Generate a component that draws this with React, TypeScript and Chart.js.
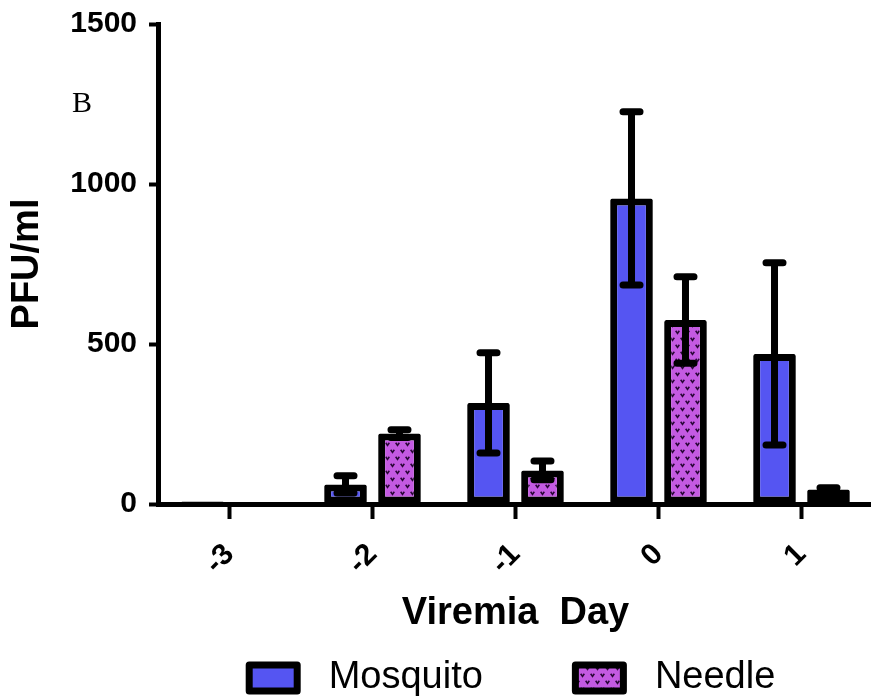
import React, { useEffect, useRef } from "react";
import { Chart, registerables } from "chart.js";

Chart.register(...registerables);

const categories = ["-3", "-2", "-1", "0", "1"];
const mosquitoMean = [8, 61, 316, 955, 469];
const mosquitoSem = [0, 27, 157, 271, 285];
const needleMean = [0, 220, 105, 575, 45];
const needleSem = [0, 12, 29, 135, 6];
const seriesNames = ["Mosquito", "Needle"];
const yMin = 0;
const yMax = 1500;
const yStep = 500;
const panelLabel = "B";
const xTitle = "Viremia  Day";
const yTitle = "PFU/ml";

const BLUE = "#5555F2";
const PURPLE = "#C45AE2";
const FONT = "'Liberation Sans', Arial, sans-serif";

function makePattern(): CanvasPattern | string {
  const c = document.createElement("canvas");
  c.width = 10;
  c.height = 14;
  const g = c.getContext("2d");
  if (!g) return PURPLE;
  g.fillStyle = PURPLE;
  g.fillRect(0, 0, 10, 14);
  g.strokeStyle = "#2A0838";
  g.lineWidth = 1.6;
  const v = (x: number, y: number) => {
    g.beginPath();
    g.moveTo(x - 1.8, y - 1.3);
    g.lineTo(x, y + 1.4);
    g.lineTo(x + 1.8, y - 1.3);
    g.stroke();
  };
  v(2.5, 3);
  v(7.5, 10);
  const p = g.createPattern(c, "repeat");
  return p || PURPLE;
}

const errorBarPlugin = {
  id: "errorBars",
  afterDatasetsDraw(chart: any) {
    const ctx = chart.ctx;
    const y = chart.scales.y;
    const means = [mosquitoMean, needleMean];
    const sems = [mosquitoSem, needleSem];
    ctx.save();
    ctx.strokeStyle = "#000";
    ctx.lineWidth = 7;
    ctx.lineCap = "round";
    chart.data.datasets.forEach((_ds: any, i: number) => {
      const meta = chart.getDatasetMeta(i);
      meta.data.forEach((el: any, j: number) => {
        const e = sems[i][j];
        if (!e) return;
        const m = means[i][j];
        const x = el.x;
        const yt = y.getPixelForValue(m + e);
        const yb = y.getPixelForValue(Math.max(0, m - e));
        ctx.beginPath();
        ctx.moveTo(x, yt);
        ctx.lineTo(x, yb);
        ctx.moveTo(x - 8.5, yt);
        ctx.lineTo(x + 8.5, yt);
        ctx.moveTo(x - 8.5, yb);
        ctx.lineTo(x + 8.5, yb);
        ctx.stroke();
      });
    });
    ctx.restore();
  },
};

const decorPlugin = {
  id: "decor",
  afterDraw(chart: any) {
    const ctx = chart.ctx;
    const area = chart.chartArea;
    ctx.save();
    // panel label
    ctx.fillStyle = "#000";
    ctx.font = "30px 'Liberation Serif', 'Times New Roman', serif";
    ctx.textBaseline = "alphabetic";
    ctx.textAlign = "left";
    ctx.fillText(panelLabel, 72, 112);

    // legend
    ctx.font = `38px ${FONT}`;
    const boxW = 55;
    const boxH = 33;
    const boxGap = 28;
    const itemGap = 89;
    const widths = chart.data.datasets.map(
      (ds: any) => boxW + boxGap + ctx.measureText(ds.label).width
    );
    const total = widths.reduce((a: number, b: number) => a + b, 0) + itemGap * (widths.length - 1);
    const cx = (area.left + area.right) / 2 - 5;
    let x = cx - total / 2;
    const cy = 678;
    chart.data.datasets.forEach((ds: any, i: number) => {
      ctx.fillStyle = ds.backgroundColor;
      ctx.fillRect(x + 3, cy - boxH / 2 + 3, boxW - 6, boxH - 6);
      ctx.strokeStyle = "#000";
      ctx.lineWidth = 7;
      ctx.lineJoin = "round";
      ctx.strokeRect(x + 3.5, cy - boxH / 2 + 3.5, boxW - 7, boxH - 7);
      ctx.fillStyle = "#000";
      ctx.textBaseline = "middle";
      ctx.fillText(ds.label, x + boxW + boxGap, cy);
      x += widths[i] + itemGap;
    });
    ctx.restore();
  },
};

export default function App() {
  const ref = useRef<HTMLCanvasElement | null>(null);

  useEffect(() => {
    if (!ref.current) return;
    const pattern = makePattern();
    const chart = new Chart(ref.current, {
      type: "bar",
      data: {
        labels: categories,
        datasets: [
          {
            label: seriesNames[0],
            data: mosquitoMean,
            backgroundColor: BLUE,
            borderColor: "#000",
            borderWidth: 7,
            borderSkipped: false,
            borderRadius: 2,
            categoryPercentage: 0.755,
            barPercentage: 0.79,
          },
          {
            label: seriesNames[1],
            data: needleMean,
            backgroundColor: pattern as any,
            borderColor: "#000",
            borderWidth: 7,
            borderSkipped: false,
            borderRadius: 2,
            categoryPercentage: 0.755,
            barPercentage: 0.79,
          },
        ],
      },
      options: {
        responsive: false,
        animation: false,
        devicePixelRatio: 1,
        layout: { padding: { left: 0, right: 0, top: 24, bottom: 64 } },
        plugins: {
          legend: { display: false },
          tooltip: { enabled: false },
        },
        scales: {
          x: {
            offset: true,
            grid: {
              offset: false,
              drawOnChartArea: false,
              drawTicks: true,
              tickLength: 15,
              tickWidth: 4,
              tickColor: "#000",
            },
            border: { display: true, color: "#000", width: 5 },
            ticks: {
              color: "#000",
              font: { family: FONT, size: 30, weight: "bold" },
              minRotation: 45,
              maxRotation: 45,
              padding: 18,
            },
            title: {
              display: true,
              text: xTitle,
              color: "#000",
              font: { family: FONT, size: 38, weight: "bold" },
              padding: 0,
            },
            afterFit(scale: any) {
              scale.height = 132;
              scale.paddingLeft = 0;
              scale.paddingRight = 0;
            },
          },
          y: {
            min: yMin,
            max: yMax,
            grid: {
              drawOnChartArea: false,
              drawTicks: true,
              tickLength: 9,
              tickWidth: 4,
              tickColor: "#000",
            },
            border: { display: true, color: "#000", width: 5 },
            ticks: {
              stepSize: yStep,
              color: "#000",
              font: { family: FONT, size: 30, weight: "bold" },
              padding: 12,
              callback: (v: any) => String(v),
            },
            title: {
              display: true,
              text: yTitle,
              color: "#000",
              font: { family: FONT, size: 38, weight: "bold" },
              padding: { top: 5, bottom: 0 },
            },
            afterFit(scale: any) {
              scale.width = 158;
              scale.paddingTop = 0;
              scale.paddingBottom = 0;
            },
          },
        },
      },
      plugins: [errorBarPlugin, decorPlugin],
    });
    return () => chart.destroy();
  }, []);

  return (
    <div style={{ position: "fixed", left: 0, top: 0, width: 873, height: 700, background: "#fff" }}>
      <canvas ref={ref} width={873} height={700} style={{ display: "block" }} />
    </div>
  );
}
